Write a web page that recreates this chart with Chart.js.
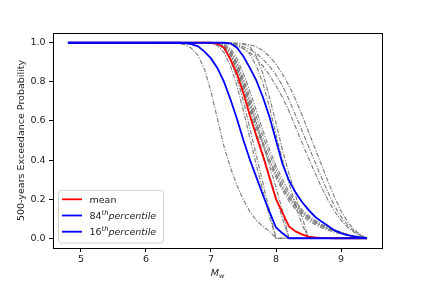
<!DOCTYPE html>
<html>
<head>
<meta charset="utf-8">
<script src="https://cdn.jsdelivr.net/npm/chart.js@4.4.1/dist/chart.umd.min.js"></script>
<style>
  body { margin: 0; background: #fff; }
  canvas { display: block; }
</style>
</head>
<body>
<canvas id="chart" width="425" height="284"></canvas>
<script>
// magnitude grid (Mw)
const mw = [4.8, 6.4, 6.5, 6.6, 6.7, 6.8, 6.9,
  7.0, 7.1, 7.2, 7.3, 7.4, 7.5, 7.6, 7.7, 7.8, 7.9,
  8.0, 8.1, 8.2, 8.3, 8.4, 8.5, 8.6, 8.7, 8.8, 8.9,
  9.0, 9.1, 9.2, 9.3, 9.4];

const mean = [1, 1, 1, 1, 1, 1, 1,
  1, 0.995, 0.975, 0.915, 0.84, 0.74, 0.625, 0.52, 0.42, 0.31,
  0.2, 0.13, 0.06, 0.035, 0.02, 0.008, 0.004, 0.002, 0.001, 0,
  0, 0, 0, 0, 0];
const p84 = [1, 1, 1, 1, 1, 1, 1,
  1, 1, 1, 0.997, 0.975, 0.93, 0.87, 0.805, 0.72, 0.62,
  0.5, 0.38, 0.295, 0.235, 0.185, 0.145, 0.11, 0.085, 0.062, 0.04,
  0.026, 0.016, 0.009, 0.004, 0];
const p16 = [1, 1, 1, 0.998, 0.993, 0.982, 0.955,
  0.92, 0.87, 0.8, 0.71, 0.61, 0.5, 0.4, 0.31, 0.22, 0.135,
  0.055, 0.025, 0, 0, 0, 0, 0, 0, 0, 0,
  0, 0, 0, 0, 0];

// individual branches (grey dash-dot)
const g1 = [1, 1, 0.997, 0.99, 0.972, 0.935, 0.865,
  0.75, 0.61, 0.47, 0.36, 0.27, 0.195, 0.135, 0.09, 0.06, 0.035,
  0, 0, 0, 0, 0, 0, 0, 0, 0, 0,
  0, 0, 0, 0, 0];
const c1 = [1, 1, 1, 1, 1, 1, 1,
  1, 0.997, 0.985, 0.95, 0.88, 0.79, 0.69, 0.59, 0.49, 0.4,
  0.33, 0.26, 0.205, 0.16, 0.127, 0.1, 0.078, 0.06, 0.046, 0.035,
  0.025, 0.016, 0.009, 0.004, 0];
const c2 = [1, 1, 1, 1, 1, 1, 1,
  1, 0.995, 0.978, 0.935, 0.86, 0.765, 0.665, 0.565, 0.47, 0.385,
  0.31, 0.245, 0.19, 0.148, 0.116, 0.09, 0.07, 0.054, 0.041, 0.031,
  0.022, 0.014, 0.008, 0.003, 0];
const c3 = [1, 1, 1, 1, 1, 1, 1,
  1, 0.998, 0.99, 0.96, 0.9, 0.815, 0.72, 0.62, 0.52, 0.43,
  0.35, 0.28, 0.22, 0.172, 0.136, 0.108, 0.085, 0.066, 0.051, 0.039,
  0.028, 0.018, 0.01, 0.004, 0];
const c4 = [1, 1, 1, 1, 1, 1, 1,
  1, 0.999, 0.993, 0.97, 0.92, 0.84, 0.75, 0.65, 0.55, 0.455,
  0.37, 0.3, 0.235, 0.185, 0.146, 0.116, 0.092, 0.072, 0.056, 0.043,
  0.031, 0.02, 0.012, 0.005, 0];
const c5 = [1, 1, 1, 1, 1, 1, 1,
  1, 0.996, 0.982, 0.945, 0.872, 0.78, 0.68, 0.58, 0.485, 0.4,
  0.325, 0.26, 0.207, 0.165, 0.132, 0.105, 0.083, 0.064, 0.049, 0.037,
  0.027, 0.017, 0.01, 0.004, 0];
const t1 = [1, 1, 1, 1, 1, 1, 1,
  1, 0.993, 0.97, 0.91, 0.82, 0.7, 0.56, 0.42, 0.28, 0.14,
  0, 0, 0, 0, 0, 0, 0, 0, 0, 0,
  0, 0, 0, 0, 0];
const t2 = [1, 1, 1, 1, 1, 1, 1,
  0.998, 0.985, 0.95, 0.88, 0.78, 0.65, 0.51, 0.37, 0.24, 0.11,
  0, 0, 0, 0, 0, 0, 0, 0, 0, 0,
  0, 0, 0, 0, 0];
const t3 = [1, 1, 1, 1, 1, 1, 1,
  1, 0.996, 0.98, 0.935, 0.86, 0.76, 0.65, 0.54, 0.43, 0.32,
  0.21, 0.1, 0, 0, 0, 0, 0, 0, 0, 0,
  0, 0, 0, 0, 0];
const t4 = [1, 1, 1, 1, 1, 1, 1,
  1, 0.998, 0.988, 0.955, 0.89, 0.8, 0.7, 0.59, 0.48, 0.37,
  0.26, 0.14, 0, 0, 0, 0, 0, 0, 0, 0,
  0, 0, 0, 0, 0];
const t5 = [1, 1, 1, 1, 1, 1, 1,
  1, 1, 1, 0.999, 0.997, 0.993, 0.98, 0.93, 0.84, 0.72,
  0.59, 0.45, 0.33, 0.22, 0.11, 0, 0, 0, 0, 0,
  0, 0, 0, 0, 0];
const t6 = [1, 1, 1, 1, 1, 1, 1,
  1, 1, 1, 0.998, 0.99, 0.97, 0.94, 0.88, 0.79, 0.67,
  0.53, 0.4, 0.28, 0.17, 0.07, 0, 0, 0, 0, 0,
  0, 0, 0, 0, 0];
const r1 = [1, 1, 1, 1, 1, 1, 1,
  1, 1, 0.997, 0.992, 0.983, 0.97, 0.95, 0.92, 0.88, 0.835,
  0.78, 0.72, 0.65, 0.57, 0.49, 0.41, 0.335, 0.26, 0.195, 0.138,
  0.092, 0.056, 0.03, 0.012, 0];
const r2 = [1, 1, 1, 1, 1, 1, 1,
  1, 1, 0.998, 0.995, 0.99, 0.98, 0.965, 0.945, 0.915, 0.88,
  0.835, 0.78, 0.71, 0.63, 0.55, 0.47, 0.39, 0.31, 0.235, 0.165,
  0.11, 0.068, 0.036, 0.014, 0];
const r3 = [1, 1, 1, 1, 1, 1, 1,
  1, 1, 1, 0.999, 0.997, 0.995, 0.99, 0.98, 0.96, 0.93,
  0.89, 0.84, 0.78, 0.71, 0.63, 0.545, 0.46, 0.375, 0.29, 0.21,
  0.14, 0.085, 0.045, 0.018, 0];
const branches = [g1, c1, c2, c3, c4, c5, t1, t2, t3, t4, t5, t6, r1, r2, r3];

const xTicks = [5, 6, 7, 8, 9];
const yTicks = [0, 0.2, 0.4, 0.6, 0.8, 1.0];

const FONT = "'DejaVu Sans', sans-serif";
const FS = 9.5;

function pts(vals) {
  return mw.map((x, i) => ({ x: x, y: vals[i] }));
}

const datasets = [
  { label: "mean", data: pts(mean), borderColor: "#ff0000", borderWidth: 1.8, order: 2 },
  { label: "84th", data: pts(p84), borderColor: "#0000ff", borderWidth: 1.8, order: 1 },
  { label: "16th", data: pts(p16), borderColor: "#0000ff", borderWidth: 1.8, order: 0 }
];
branches.forEach(b => {
  datasets.push({
    label: "branch", data: pts(b), borderColor: "#7f7f7f",
    borderWidth: 1.15, borderDash: [4.5, 1.5, 1.2, 1.5], order: 5
  });
});
datasets.forEach(d => { d.showLine = true; d.pointRadius = 0; d.fill = false; });

// frame, axis titles and in-plot legend
const decor = {
  id: "decor",
  afterDraw(chart) {
    const c = chart.ctx, a = chart.chartArea;
    c.save();
    c.strokeStyle = "#000";
    c.lineWidth = 1;
    c.strokeRect(Math.round(a.left) + 0.5, Math.round(a.top) + 0.5,
      Math.round(a.right - a.left), Math.round(a.bottom - a.top));

    c.fillStyle = "#222";
    c.textBaseline = "alphabetic";
    // x title M_w
    c.font = "italic " + FS + "px " + FONT;
    const mW = c.measureText("M").width;
    c.font = "italic " + (FS * 0.7) + "px " + FONT;
    const wW = c.measureText("w").width;
    let x0 = (a.left + a.right) / 2 - (mW + wW) / 2;
    c.font = "italic " + FS + "px " + FONT;
    c.fillText("M", x0, 276);
    c.font = "italic " + (FS * 0.7) + "px " + FONT;
    c.fillText("w", x0 + mW, 278);

    // y title
    c.save();
    c.translate(24, (a.top + a.bottom) / 2);
    c.rotate(-Math.PI / 2);
    c.textAlign = "center";
    c.font = FS + "px " + FONT;
    c.fillText("500-years Exceedance Probability", 0, 0);
    c.restore();

    // legend box
    const lx = a.left + 5.5, ly = a.bottom - 57.5, lw = 105, lh = 52.5, r = 3;
    c.beginPath();
    c.moveTo(lx + r, ly);
    c.arcTo(lx + lw, ly, lx + lw, ly + lh, r);
    c.arcTo(lx + lw, ly + lh, lx, ly + lh, r);
    c.arcTo(lx, ly + lh, lx, ly, r);
    c.arcTo(lx, ly, lx + lw, ly, r);
    c.closePath();
    c.fillStyle = "rgba(255,255,255,0.8)";
    c.fill();
    c.strokeStyle = "#d0d0d0";
    c.lineWidth = 1;
    c.stroke();

    const rows = [
      { color: "#ff0000", pre: "mean", sup: "", post: "" },
      { color: "#0000ff", pre: "84", sup: "th", post: "percentile" },
      { color: "#0000ff", pre: "16", sup: "th", post: "percentile" }
    ];
    rows.forEach((row, i) => {
      const y = ly + 8.8 + i * 16.2;
      c.strokeStyle = row.color;
      c.lineWidth = 1.8;
      c.setLineDash([]);
      c.beginPath();
      c.moveTo(lx + 3.5, y);
      c.lineTo(lx + 23.5, y);
      c.stroke();
      c.fillStyle = "#222";
      let tx = lx + 31;
      const base = y + 3.5;
      c.font = FS + "px " + FONT;
      c.fillText(row.pre, tx, base);
      tx += c.measureText(row.pre).width;
      if (row.sup) {
        c.font = "italic " + (FS * 0.7) + "px " + FONT;
        c.fillText(row.sup, tx, base - 4);
        tx += c.measureText(row.sup).width;
        c.font = "italic " + FS + "px " + FONT;
        c.fillText(row.post, tx, base);
      }
    });
    c.restore();
  }
};

new Chart(document.getElementById("chart"), {
  type: "scatter",
  data: { datasets: datasets },
  options: {
    responsive: false,
    animation: false,
    devicePixelRatio: 1,
    layout: { padding: { left: 0, top: 33, right: 43, bottom: 0 } },
    elements: { line: { tension: 0 } },
    plugins: { legend: { display: false }, tooltip: { enabled: false } },
    scales: {
      x: {
        type: "linear", min: 4.57, max: 9.63,
        afterFit(s) { s.height = 36; },
        afterBuildTicks(s) { s.ticks = xTicks.map(v => ({ value: v })); },
        grid: { drawOnChartArea: false, drawTicks: true, tickLength: 4, color: "#000" },
        border: { display: false },
        ticks: { color: "#222", padding: 2, font: { family: FONT, size: FS }, callback: v => String(v) }
      },
      y: {
        type: "linear", min: -0.05, max: 1.05,
        afterFit(s) { s.width = 53; },
        afterBuildTicks(s) { s.ticks = yTicks.map(v => ({ value: v })); },
        grid: { drawOnChartArea: false, drawTicks: true, tickLength: 4, color: "#000" },
        border: { display: false },
        ticks: { color: "#222", padding: 3.5, font: { family: FONT, size: FS }, callback: v => v.toFixed(1) }
      }
    }
  },
  plugins: [decor]
});
</script>
</body>
</html>
